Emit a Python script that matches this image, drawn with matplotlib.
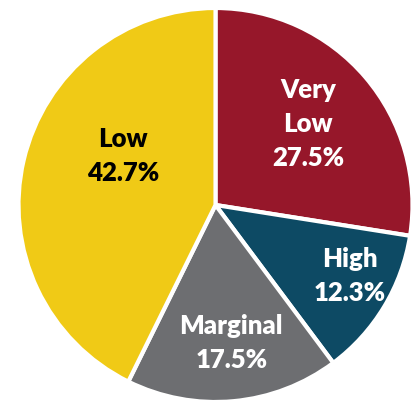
import matplotlib
matplotlib.use("Agg")
import matplotlib.pyplot as plt

# slices, clockwise from 12 o'clock
categories = ["Very\nLow", "High", "Marginal", "Low"]
shares = [27.5, 12.3, 17.5, 42.7]
colors = ["#96172A", "#0D4A64", "#6D6E71", "#F0CA16"]
text_colors = ["white", "white", "white", "black"]

# label centres in pie-radius units
label_pos = [(0.47, 0.41), (0.68, -0.36), (0.08, -0.70), (-0.47, 0.25)]

W, H = 415, 403
fig = plt.figure(figsize=(W / 100, H / 100), dpi=100)
cx, cy, r = 215.5, 205, 197
ax = fig.add_axes([(cx - r) / W, (H - cy - r) / H, 2 * r / W, 2 * r / H])

ax.pie(shares, colors=colors, startangle=90, counterclock=False,
       wedgeprops=dict(edgecolor="white", linewidth=3))
ax.set_xlim(-1, 1)
ax.set_ylim(-1, 1)
ax.set_aspect("equal")
ax.axis("off")

for name, val, (x, y), tc in zip(categories, shares, label_pos, text_colors):
    ax.text(x, y, f"{name}\n{val:.1f}%", ha="center", va="center",
            color=tc, fontsize=18.5, fontweight="heavy", family="Lato",
            linespacing=1.5)

fig.savefig("out.png", dpi=100)
